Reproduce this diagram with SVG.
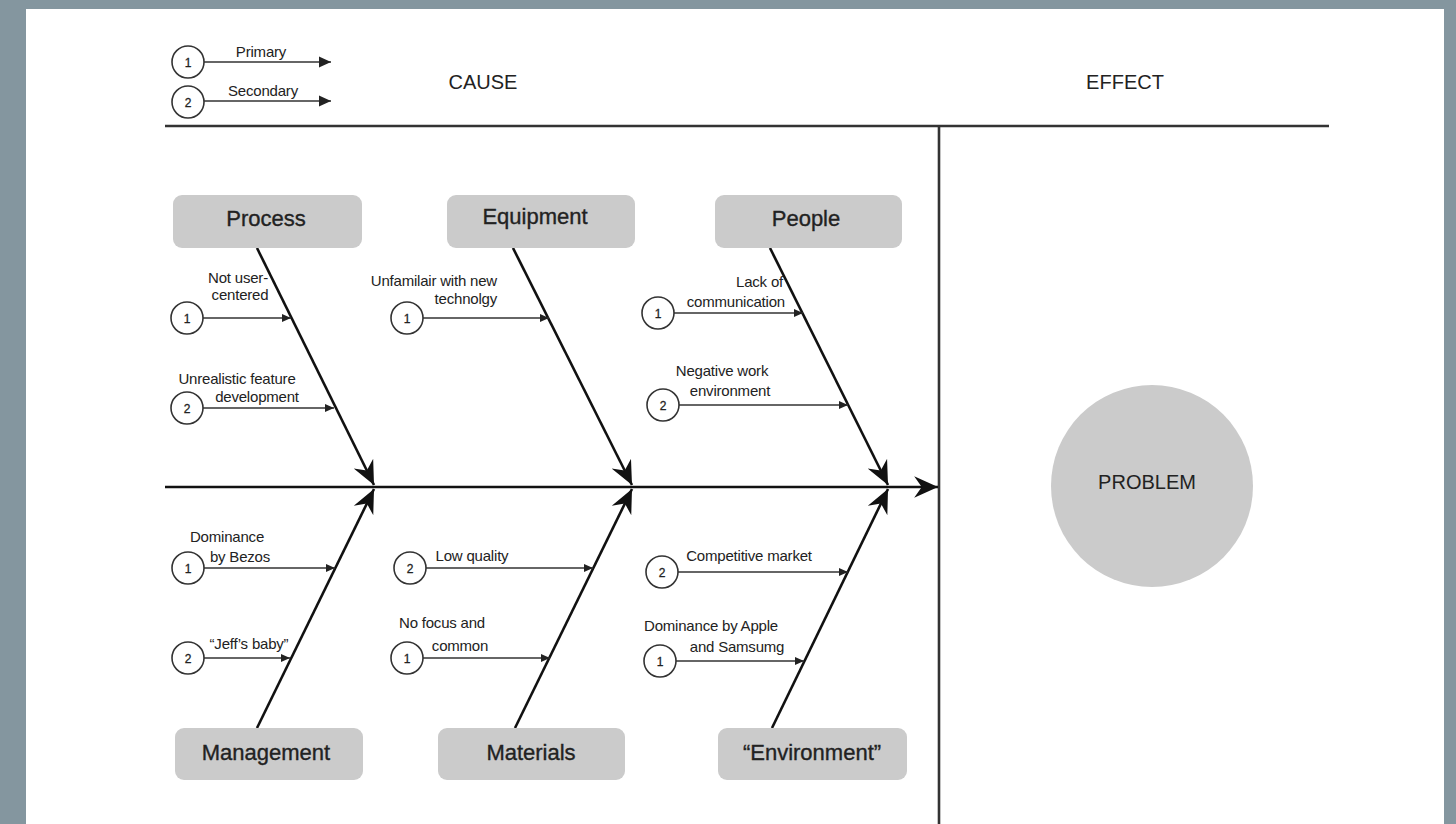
<svg xmlns="http://www.w3.org/2000/svg" width="1456" height="824" viewBox="0 0 1456 824">
<defs>
<style>
.box{fill:#cbcbcb}
.bt{font-family:"Liberation Sans",Arial,sans-serif;font-size:22px;fill:#222;stroke:#222;stroke-width:0.35;text-anchor:middle}
.hd{font-family:"Liberation Sans",Arial,sans-serif;font-size:20px;fill:#222;text-anchor:middle}
.lb{font-family:"Liberation Sans",Arial,sans-serif;font-size:15px;fill:#222;letter-spacing:-0.2px}
.num{font-family:"Liberation Sans",Arial,sans-serif;font-size:12px;fill:#222;stroke:#222;stroke-width:0.3;text-anchor:middle}
.ring{fill:#fff;stroke:#333;stroke-width:1.6}
.bone{stroke:#111;stroke-width:2.6;fill:none}
.sub{stroke:#333;stroke-width:1.6;fill:none}
.frame{stroke:#333;stroke-width:2.6;fill:none}
</style>
<marker id="big" markerUnits="userSpaceOnUse" markerWidth="26" markerHeight="24" viewBox="-22 -11 24 22" refX="0" refY="0" orient="auto">
<path d="M0,0 L-22,-10 L-15,0 L-22,10 Z" fill="#111"/>
</marker>
<marker id="sm" markerUnits="userSpaceOnUse" markerWidth="12" markerHeight="10" viewBox="-10 -5 11 10" refX="0" refY="0" orient="auto">
<path d="M0,0 L-9,-4 L-9,4 Z" fill="#222"/>
</marker>
<marker id="lg" markerUnits="userSpaceOnUse" markerWidth="14" markerHeight="12" viewBox="-13 -6 14 12" refX="0" refY="0" orient="auto">
<path d="M0,0 L-12,-5.5 L-12,5.5 Z" fill="#222"/>
</marker>
</defs>
<rect x="0" y="0" width="1456" height="824" fill="#84969f"/>
<rect x="26" y="9" width="1418" height="815" fill="#fff"/>

<g id="legend">
<circle class="ring" cx="188" cy="62" r="16"/>
<text class="num" x="188" y="66.5">1</text>
<line class="sub" x1="204" y1="62" x2="331" y2="62" marker-end="url(#lg)"/>
<text class="lb" x="261" y="57" text-anchor="middle">Primary</text>
<circle class="ring" cx="188" cy="102" r="16"/>
<text class="num" x="188" y="106.5">2</text>
<line class="sub" x1="204" y1="101" x2="331" y2="101" marker-end="url(#lg)"/>
<text class="lb" x="263" y="96" text-anchor="middle">Secondary</text>
</g>

<g id="header">
<text class="hd" x="483" y="89">CAUSE</text>
<text class="hd" x="1125" y="89">EFFECT</text>
<line class="frame" x1="165" y1="126" x2="1329" y2="126"/>
<line class="frame" x1="939" y1="126" x2="939" y2="824"/>
</g>

<g id="connectors">
<line class="bone" x1="165" y1="487" x2="938" y2="487" marker-end="url(#big)"/>
<line class="bone" x1="257" y1="248" x2="374" y2="485" marker-end="url(#big)"/>
<line class="bone" x1="513" y1="248" x2="632" y2="485" marker-end="url(#big)"/>
<line class="bone" x1="770" y1="248" x2="888" y2="485" marker-end="url(#big)"/>
<line class="bone" x1="257" y1="728" x2="374" y2="489" marker-end="url(#big)"/>
<line class="bone" x1="515" y1="728" x2="632" y2="489" marker-end="url(#big)"/>
<line class="bone" x1="772" y1="728" x2="888" y2="489" marker-end="url(#big)"/>
<line class="sub" x1="203" y1="318" x2="291" y2="318" marker-end="url(#sm)"/>
<line class="sub" x1="203" y1="408" x2="334" y2="408" marker-end="url(#sm)"/>
<line class="sub" x1="423" y1="318" x2="549" y2="318" marker-end="url(#sm)"/>
<line class="sub" x1="674" y1="313" x2="803" y2="313" marker-end="url(#sm)"/>
<line class="sub" x1="679" y1="405" x2="848" y2="405" marker-end="url(#sm)"/>
<line class="sub" x1="204" y1="568" x2="335" y2="568" marker-end="url(#sm)"/>
<line class="sub" x1="204" y1="658" x2="290" y2="658" marker-end="url(#sm)"/>
<line class="sub" x1="426" y1="568" x2="593" y2="568" marker-end="url(#sm)"/>
<line class="sub" x1="423" y1="658" x2="550" y2="658" marker-end="url(#sm)"/>
<line class="sub" x1="678" y1="572" x2="848" y2="572" marker-end="url(#sm)"/>
<line class="sub" x1="676" y1="661" x2="804" y2="661" marker-end="url(#sm)"/>
</g>

<g id="process">
<rect class="box" x="173" y="195" width="189" height="53" rx="9"/>
<text class="bt" x="266" y="226">Process</text>
</g>
<g id="equipment">
<rect class="box" x="447" y="195" width="188" height="53" rx="9"/>
<text class="bt" x="535" y="224">Equipment</text>
</g>
<g id="people">
<rect class="box" x="715" y="195" width="187" height="53" rx="9"/>
<text class="bt" x="806" y="226">People</text>
</g>
<g id="management">
<rect class="box" x="175" y="728" width="188" height="52" rx="9"/>
<text class="bt" x="266" y="760">Management</text>
</g>
<g id="materials">
<rect class="box" x="438" y="728" width="187" height="52" rx="9"/>
<text class="bt" x="531" y="760">Materials</text>
</g>
<g id="environment">
<rect class="box" x="718" y="728" width="189" height="52" rx="9"/>
<text class="bt" x="812" y="760">“Environment”</text>
</g>

<g id="problem">
<circle cx="1152" cy="486" r="101" fill="#cbcbcb"/>
<text class="hd" x="1147" y="489">PROBLEM</text>
</g>

<g id="cause-not-user-centered">
<circle class="ring" cx="187" cy="318" r="16"/>
<text class="num" x="187" y="322.5">1</text>
<text class="lb" x="238" y="283" text-anchor="middle">Not user-</text>
<text class="lb" x="240" y="300" text-anchor="middle">centered</text>
</g>
<g id="cause-unrealistic">
<circle class="ring" cx="187" cy="408" r="16"/>
<text class="num" x="187" y="412.5">2</text>
<text class="lb" x="237" y="384" text-anchor="middle">Unrealistic feature</text>
<text class="lb" x="257" y="402" text-anchor="middle">development</text>
</g>
<g id="cause-unfamiliar">
<circle class="ring" cx="407" cy="318" r="16"/>
<text class="num" x="407" y="322.5">1</text>
<text class="lb" x="497" y="286" text-anchor="end">Unfamilair with new</text>
<text class="lb" x="497" y="304" text-anchor="end">technolgy</text>
</g>
<g id="cause-lack-communication">
<circle class="ring" cx="658" cy="313" r="16"/>
<text class="num" x="658" y="317.5">1</text>
<text class="lb" x="783" y="287" text-anchor="end">Lack of</text>
<text class="lb" x="785" y="307" text-anchor="end">communication</text>
</g>
<g id="cause-negative-work">
<circle class="ring" cx="663" cy="405" r="16"/>
<text class="num" x="663" y="409.5">2</text>
<text class="lb" x="722" y="376" text-anchor="middle">Negative work</text>
<text class="lb" x="730" y="396" text-anchor="middle">environment</text>
</g>
<g id="cause-dominance-bezos">
<circle class="ring" cx="188" cy="568" r="16"/>
<text class="num" x="188" y="572.5">1</text>
<text class="lb" x="227" y="542" text-anchor="middle">Dominance</text>
<text class="lb" x="240" y="562" text-anchor="middle">by Bezos</text>
</g>
<g id="cause-jeffs-baby">
<circle class="ring" cx="188" cy="658" r="16"/>
<text class="num" x="188" y="662.5">2</text>
<text class="lb" x="249" y="649" text-anchor="middle">“Jeff’s baby”</text>
</g>
<g id="cause-low-quality">
<circle class="ring" cx="410" cy="568" r="16"/>
<text class="num" x="410" y="572.5">2</text>
<text class="lb" x="472" y="561" text-anchor="middle">Low quality</text>
</g>
<g id="cause-no-focus">
<circle class="ring" cx="407" cy="658" r="16"/>
<text class="num" x="407" y="662.5">1</text>
<text class="lb" x="442" y="628" text-anchor="middle">No focus and</text>
<text class="lb" x="460" y="651" text-anchor="middle">common</text>
</g>
<g id="cause-competitive-market">
<circle class="ring" cx="662" cy="572" r="16"/>
<text class="num" x="662" y="576.5">2</text>
<text class="lb" x="749" y="561" text-anchor="middle">Competitive market</text>
</g>
<g id="cause-dominance-apple">
<circle class="ring" cx="660" cy="661" r="16"/>
<text class="num" x="660" y="665.5">1</text>
<text class="lb" x="711" y="631" text-anchor="middle">Dominance by Apple</text>
<text class="lb" x="737" y="652" text-anchor="middle">and Samsumg</text>
</g>
</svg>
